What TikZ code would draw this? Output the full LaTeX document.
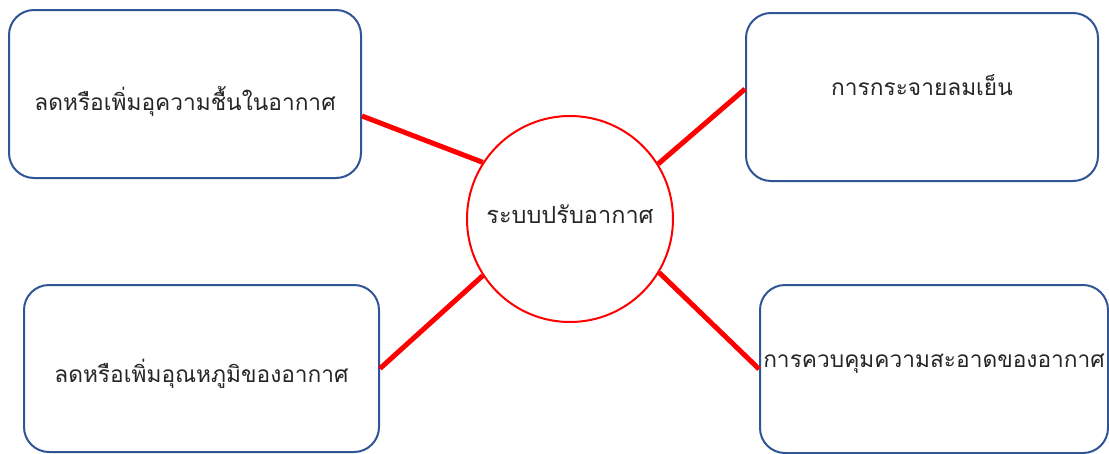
\documentclass[tikz,border=0pt]{standalone}
\usepackage{fontspec}
\newfontfamily\thaifont[Script=Thai]{Loma}
\definecolor{boxblue}{HTML}{2F5597}
\definecolor{txtgray}{HTML}{262626}
\newcommand{\baseat}[2]{\raisebox{#1}[0pt][0pt]{#2}}
\begin{document}
\begin{tikzpicture}[x=1pt,y=-1pt,
  topic/.style={draw=boxblue,line width=2pt,rounded corners=25pt,fill=white,
    minimum width=352pt,minimum height=168pt,inner sep=0pt,
    font=\thaifont\fontsize{22.7}{26}\selectfont,text=txtgray},
  hub/.style={circle,draw=red,line width=2pt,minimum size=206pt,inner sep=0pt,
    font=\thaifont\fontsize{23.5}{27}\selectfont,text=txtgray},
  link/.style={draw=red,line width=5pt}]
\useasboundingbox (0,0) rectangle (1109,453);
\node[topic] (tl) at (185,94) {\baseat{-16pt}{ลดหรือเพิ่มอุความชื้นในอากาศ}};
\node[topic] (tr) at (922,97) {\baseat{2pt}{การกระจายลมเย็น}};
\node[topic,minimum width=355pt,minimum height=167pt] (bl) at (201.5,368.5) {\baseat{-13.5pt}{ลดหรือเพิ่มอุณหภูมิของอากาศ}};
\node[topic,minimum width=348pt] (br) at (934,369) {\baseat{2pt}{การควบคุมความสะอาดของอากาศ}};
\node[hub] (c) at (570,219) {\baseat{-4pt}{ระบบปรับอากาศ}};
\draw[link] ([yshift=-22pt]tl.east) -- (c.147);
\draw[link] ([yshift=8pt]tr.west) -- (c.32);
\draw[link] (bl.east) -- (c.213);
\draw[link] (br.west) -- (c.-31);
\end{tikzpicture}
\end{document}
